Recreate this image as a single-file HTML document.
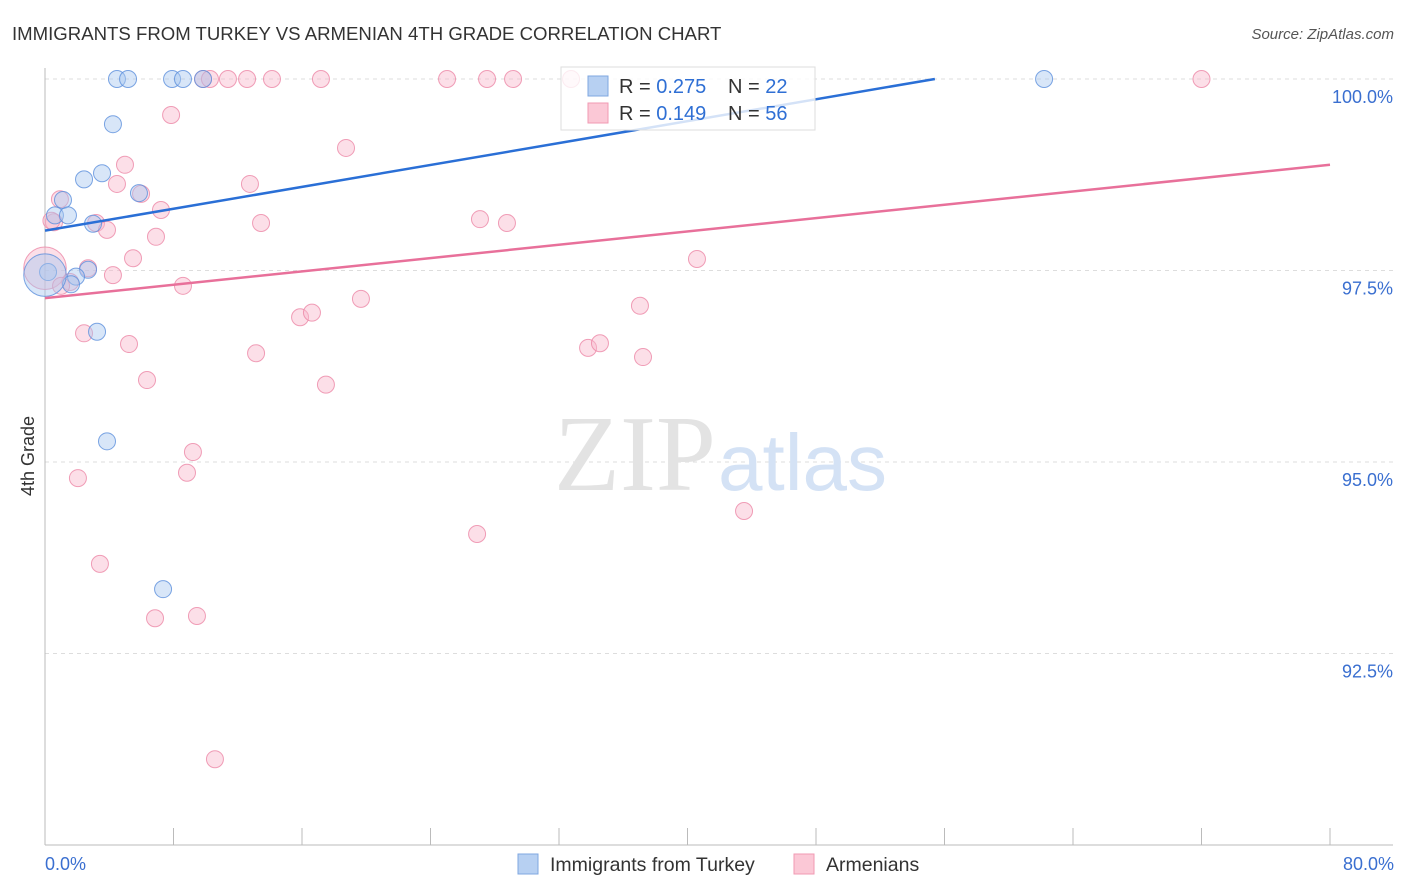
<!DOCTYPE html>
<html><head><meta charset="utf-8"><style>
body{margin:0;background:#fff;font-family:"Liberation Sans",sans-serif;}
svg{display:block}
</style></head><body>
<svg id="chart" width="1406" height="892">
<text x="12" y="40" font-size="18.6" fill="#333">IMMIGRANTS FROM TURKEY VS ARMENIAN 4TH GRADE CORRELATION CHART</text>
<text x="1394" y="39" font-size="15" fill="#555" font-style="italic" text-anchor="end">Source: ZipAtlas.com</text>
<g id="grid"></g>
<text x="716" y="490" font-size="108" font-family="Liberation Serif,serif" fill="#e3e3e3" text-anchor="end">ZIP</text>
<text x="718" y="490" font-size="80" fill="#d4e2f5">atlas</text>
<g id="axes"></g>
<g id="marks"></g>
<text x="34" y="456" font-size="18" fill="#333" text-anchor="middle" transform="rotate(-90 34 456)">4th Grade</text>
<text x="45" y="870" font-size="18" fill="#3a6fd0">0.0%</text>
<text x="1394" y="870" font-size="18" fill="#3a6fd0" text-anchor="end">80.0%</text>
<g>
<rect x="561" y="67" width="254" height="63" fill="#fff" fill-opacity="0.8" stroke="#ddd"/>
<rect x="588" y="76" width="20" height="20" fill="#b7d0f2" stroke="#7fa7e0"/>
<rect x="588" y="103" width="20" height="20" fill="#fbc8d6" stroke="#f09ab3"/>
<text x="619" y="93" font-size="20" fill="#333">R = <tspan fill="#2f6fd4">0.275</tspan><tspan x="728">N = </tspan><tspan fill="#2f6fd4">22</tspan></text>
<text x="619" y="120" font-size="20" fill="#333">R = <tspan fill="#2f6fd4"> 0.149</tspan><tspan x="728">N = </tspan><tspan fill="#2f6fd4">56</tspan></text>
</g>
<g>
<rect x="518" y="854" width="20" height="20" fill="#b7d0f2" stroke="#7fa7e0"/>
<text x="550" y="871" font-size="19.5" fill="#333">Immigrants from Turkey</text>
<rect x="794" y="854" width="20" height="20" fill="#fbc8d6" stroke="#f09ab3"/>
<text x="826" y="871" font-size="19.5" fill="#333">Armenians</text>
</g>
</svg>
<script>
const yTicks=[100,97.5,95,92.5];
const yTickLabels=["100.0%","97.5%","95.0%","92.5%"];
const xTicks=[0,8,16,24,32,40,48,56,64,72,80];
const blueX=[4.48,5.17,7.91,8.59,9.84,62.2,4.23,3.55,2.43,1.12,5.85,0.62,1.43,2.99,0.19,2.68,1.93,1.62,3.24,3.86,7.35,0];
const blueY=[100,100,100,100,100,100,99.41,98.77,98.69,98.42,98.51,98.22,98.22,98.11,97.48,97.51,97.42,97.32,96.70,95.27,93.34,97.44];
const blueSize=[1,1,1,1,1,1,1,1,1,1,1,1,1,1,1,1,1,1,1,1,1,2.5];
const pinkX=[9.84,10.27,11.39,12.58,14.13,17.18,25.03,27.52,29.14,32.75,72.0,7.85,4.98,18.74,4.48,12.76,5.98,0.93,7.22,0.56,3.18,3.86,13.45,27.08,28.76,6.91,5.48,40.59,2.68,4.23,1.56,8.59,19.67,37.04,15.88,16.62,2.43,5.23,13.14,33.81,34.55,37.23,6.35,17.49,9.21,8.84,2.05,43.52,26.9,3.42,6.85,9.46,10.58,0,0.4,1.0];
const pinkY=[100,100,100,100,100,100,100,100,100,100,100,99.53,98.88,99.10,98.63,98.63,98.50,98.43,98.29,98.13,98.12,98.03,98.12,98.17,98.12,97.94,97.66,97.65,97.53,97.44,97.35,97.30,97.13,97.04,96.89,96.95,96.68,96.54,96.42,96.49,96.55,96.37,96.07,96.01,95.13,94.86,94.79,94.36,94.06,93.67,92.96,92.99,91.12,97.53,98.15,97.30];
const pinkSize=[1,1,1,1,1,1,1,1,1,1,1,1,1,1,1,1,1,1,1,1,1,1,1,1,1,1,1,1,1,1,1,1,1,1,1,1,1,1,1,1,1,1,1,1,1,1,1,1,1,1,1,1,1,2.5,1,1];
const blueTrend=[0,98.02,55.4,100];
const pinkTrend=[0,97.14,80,98.88];
const NS="http://www.w3.org/2000/svg";
const xs=v=>45+v/80*1285;
const ys=v=>845-(v-90)/10*766;
function mk(t,a,p){const e=document.createElementNS(NS,t);for(const k in a)e.setAttribute(k,a[k]);p.appendChild(e);return e;}
const grid=document.getElementById('grid'),axes=document.getElementById('axes'),marks=document.getElementById('marks');
yTicks.forEach((v,i)=>{
 const l=mk('line',{x1:45,x2:1393,y1:ys(v),y2:ys(v),stroke:'#ddd','stroke-dasharray':'4 4'},grid);
 
 
 const t=mk('text',{x:1393,y:ys(v)+24,'font-size':18,fill:'#3a6fd0','text-anchor':'end'},grid);
 t.textContent=yTickLabels[i];
 
 
});
const ya=mk('line',{x1:45,x2:45,y1:68,y2:845,stroke:'#bbb'},axes);


const xa=mk('line',{x1:45,x2:1393,y1:845,y2:845,stroke:'#bbb'},axes);


xTicks.forEach(v=>{
 const t=mk('line',{x1:xs(v),x2:xs(v),y1:828,y2:845,stroke:'#bbb'},axes);
 
 
});
function dots(X,Y,S,fill,stroke,name){
 X.forEach((x,i)=>{
  const c=mk('circle',{cx:xs(x),cy:ys(Y[i]),r:8.5*S[i],fill:fill,'fill-opacity':0.45,stroke:stroke,'stroke-opacity':0.8,'stroke-width':1},marks);
  
  
 });
}
dots(pinkX,pinkY,pinkSize,'#f8b9cb','#ec87a6','armenian-point');
dots(blueX,blueY,blueSize,'#a9c8f0','#5b8fdc','turkey-point');
const bl=mk('line',{x1:xs(blueTrend[0]),y1:ys(blueTrend[1]),x2:xs(blueTrend[2]),y2:ys(blueTrend[3]),stroke:'#2a6fd6','stroke-width':2.5},marks);


const pl=mk('line',{x1:xs(pinkTrend[0]),y1:ys(pinkTrend[1]),x2:xs(pinkTrend[2]),y2:ys(pinkTrend[3]),stroke:'#e8709a','stroke-width':2.5},marks);


</script>
</body></html>
